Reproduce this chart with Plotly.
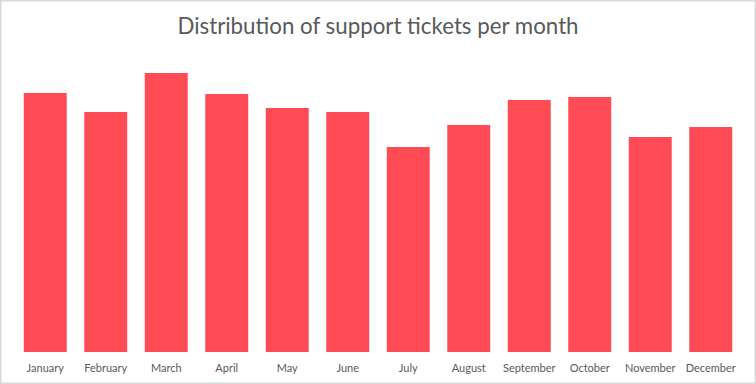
import plotly.graph_objects as go

months = ["January", "February", "March", "April", "May", "June", "July",
          "August", "September", "October", "November", "December"]
tickets = [259, 240, 279, 258, 244, 240, 205, 227, 252, 255, 215, 225]

W, H = 756, 384
ml, mr, mt, mb = 15, 15, 52, 32
pw, ph = W - ml - mr, H - mt - mb

fig = go.Figure(go.Bar(x=months, y=tickets, marker_color="#FF4B55",
                       marker_line_width=0, width=0.71, hoverinfo="skip"))
fig.update_layout(
    width=W, height=H,
    margin=dict(l=ml, r=mr, t=mt, b=mb, autoexpand=False),
    paper_bgcolor="white", plot_bgcolor="white",
    title=dict(text="Distribution of support tickets per month",
               x=0.5, xanchor="center", y=1 - 26.5 / H, yanchor="middle",
               font=dict(family="Lato, Open Sans, sans-serif", size=22.3, color="#595959")),
    xaxis=dict(showgrid=False, showline=False, zeroline=False, ticks="",
               ticklabelstandoff=8, automargin=False,
               tickfont=dict(family="Lato, Open Sans, sans-serif", size=11, color="#595959")),
    yaxis=dict(visible=False, range=[0, 300], automargin=False),
    showlegend=False,
    shapes=[dict(type="rect", xref="paper", yref="paper",
                 x0=-(ml - 0.75) / pw, x1=1 + (mr - 0.75) / pw,
                 y0=-(mb - 0.75) / ph, y1=1 + (mt - 0.75) / ph,
                 line=dict(color="#D9D9D9", width=1.5), layer="below")],
)
fig.write_html("out.html", config={"displayModeBar": False},
               post_script="document.body.style.margin='0';")
